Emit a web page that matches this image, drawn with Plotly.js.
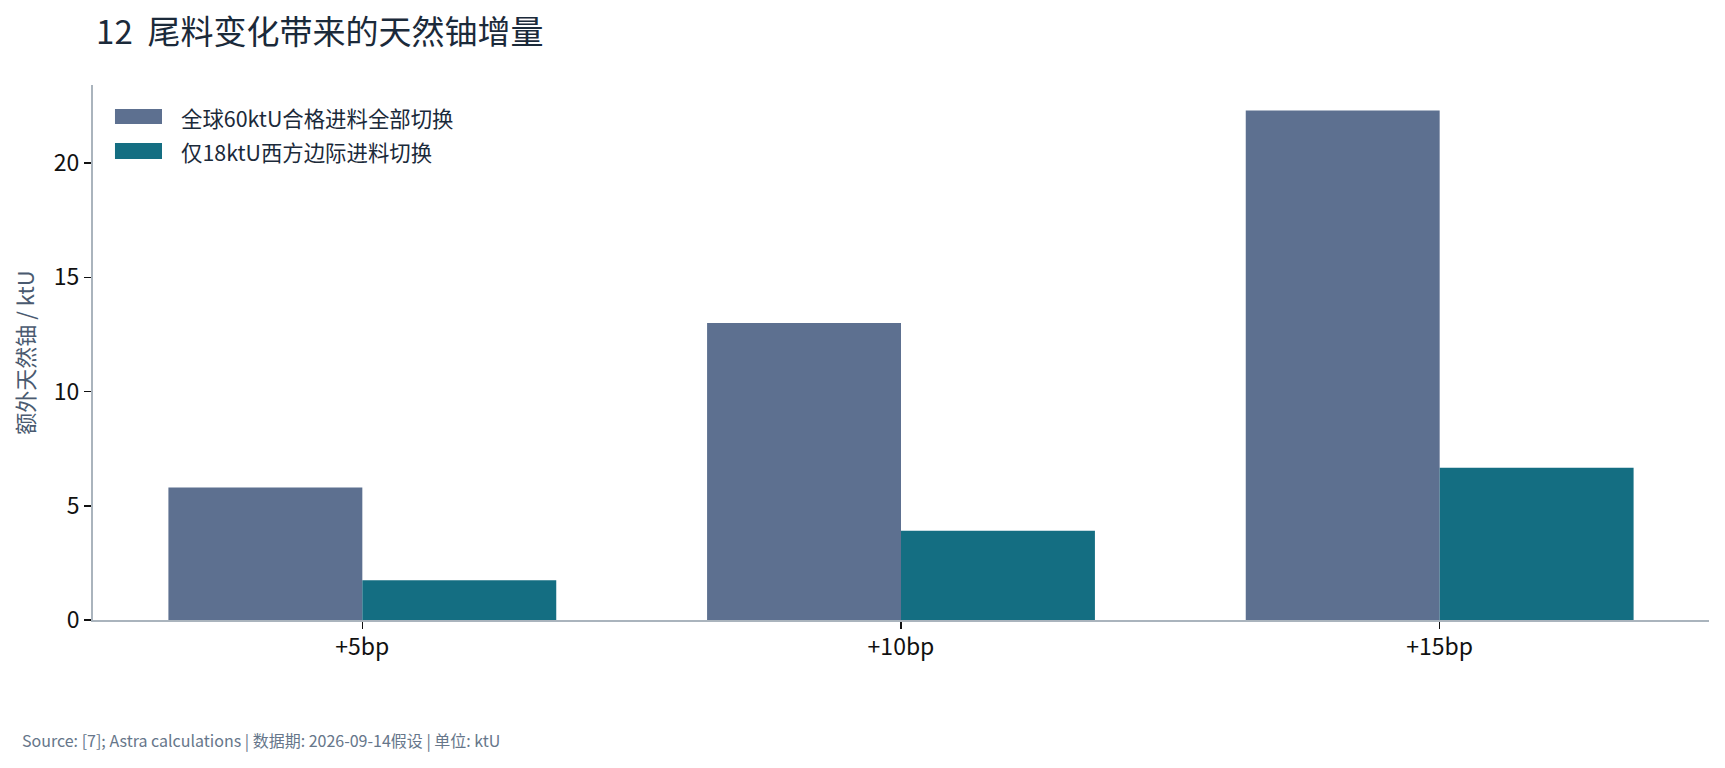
<!DOCTYPE html>
<html>
<head>
<meta charset="utf-8">
<script src="https://cdn.plot.ly/plotly-3.0.1.min.js"></script>
<style>
  html, body { margin: 0; padding: 0; background: #fff; }
  #chart { width: 1725px; height: 768px; }
</style>
</head>
<body>
<div id="chart"></div>
<script>
// data
const categories = ["+5bp", "+10bp", "+15bp"];
const seriesNames = ["全球60ktU合格进料全部切换", "仅18ktU西方边际进料切换"];
const globalAll = [5.8, 13.0, 22.3];
const westOnly = [1.74, 3.91, 6.67];
const yTicks = [0, 5, 10, 15, 20];

const colors = ["#5d7090", "#146e82"];
const FONT = '"Noto Sans CJK SC", "Noto Sans", sans-serif';

const traces = [
  {
    x: categories,
    y: globalAll,
    name: seriesNames[0],
    type: "bar",
    marker: { color: colors[0] },
    hoverinfo: "none",
  },
  {
    x: categories,
    y: westOnly,
    name: seriesNames[1],
    type: "bar",
    marker: { color: colors[1] },
    hoverinfo: "none",
  },
];

// hand-drawn legend, wide swatches like the original
const legendShapes = [];
const legendNotes = [];
const swatchY = [[0.927, 0.955], [0.8617, 0.8916]];
const textY = [0.940, 0.875];
seriesNames.forEach(function (name, i) {
  legendShapes.push({
    type: "rect",
    xref: "paper",
    yref: "paper",
    x0: 0.0136,
    x1: 0.0427,
    y0: swatchY[i][0],
    y1: swatchY[i][1],
    fillcolor: colors[i],
    line: { width: 0 },
  });
  legendNotes.push({
    xref: "paper",
    yref: "paper",
    x: 0.0532,
    y: textY[i],
    xanchor: "left",
    yanchor: "middle",
    showarrow: false,
    text: name,
    font: { family: FONT, size: 21.4, color: "#1b2a3a" },
  });
});

legendNotes.push({
  xref: "paper",
  yref: "paper",
  x: -0.0452,
  y: -0.224,
  xanchor: "left",
  yanchor: "middle",
  showarrow: false,
  text: "Source: [7]; Astra calculations | 数据期: 2026-09-14假设 | 单位: ktU",
  font: { family: FONT, size: 16, color: "#66768a" },
});

const layout = {
  width: 1725,
  height: 768,
  margin: { l: 93, r: 16, t: 85, b: 148 },
  paper_bgcolor: "#ffffff",
  plot_bgcolor: "#ffffff",
  font: { family: FONT, size: 21, color: "#111111" },
  title: {
    text: "12  尾料变化带来的天然铀增量",
    x: 0.0557,
    xanchor: "left",
    xref: "container",
    y: 0.958,
    yanchor: "middle",
    font: { family: FONT, size: 33, color: "#1b2a3a" },
  },
  showlegend: false,
  barmode: "group",
  bargap: 0.28,
  bargroupgap: 0,
  xaxis: {
    range: [-0.5, 2.5],
    showgrid: false,
    zeroline: false,
    showline: true,
    linecolor: "#aab4bd",
    linewidth: 2,
    ticks: "outside",
    ticklen: 7,
    tickwidth: 1.5,
    tickcolor: "#111111",
    ticklabelstandoff: -2,
    tickfont: { family: FONT, size: 23, color: "#111111" },
    fixedrange: true,
  },
  yaxis: {
    range: [0, 23.42],
    tickvals: yTicks,
    showgrid: false,
    zeroline: false,
    showline: true,
    linecolor: "#aab4bd",
    linewidth: 2,
    ticks: "outside",
    ticklen: 7,
    tickwidth: 1.5,
    tickcolor: "#111111",
    tickfont: { family: FONT, size: 23, color: "#111111" },
    title: {
      text: "额外天然铀 / ktU",
      standoff: 13,
      font: { family: FONT, size: 22, color: "#4a5a70" },
    },
    fixedrange: true,
  },
  shapes: legendShapes,
  annotations: legendNotes,
};

Plotly.newPlot("chart", traces, layout, { displayModeBar: false, staticPlot: true });
</script>
</body>
</html>
